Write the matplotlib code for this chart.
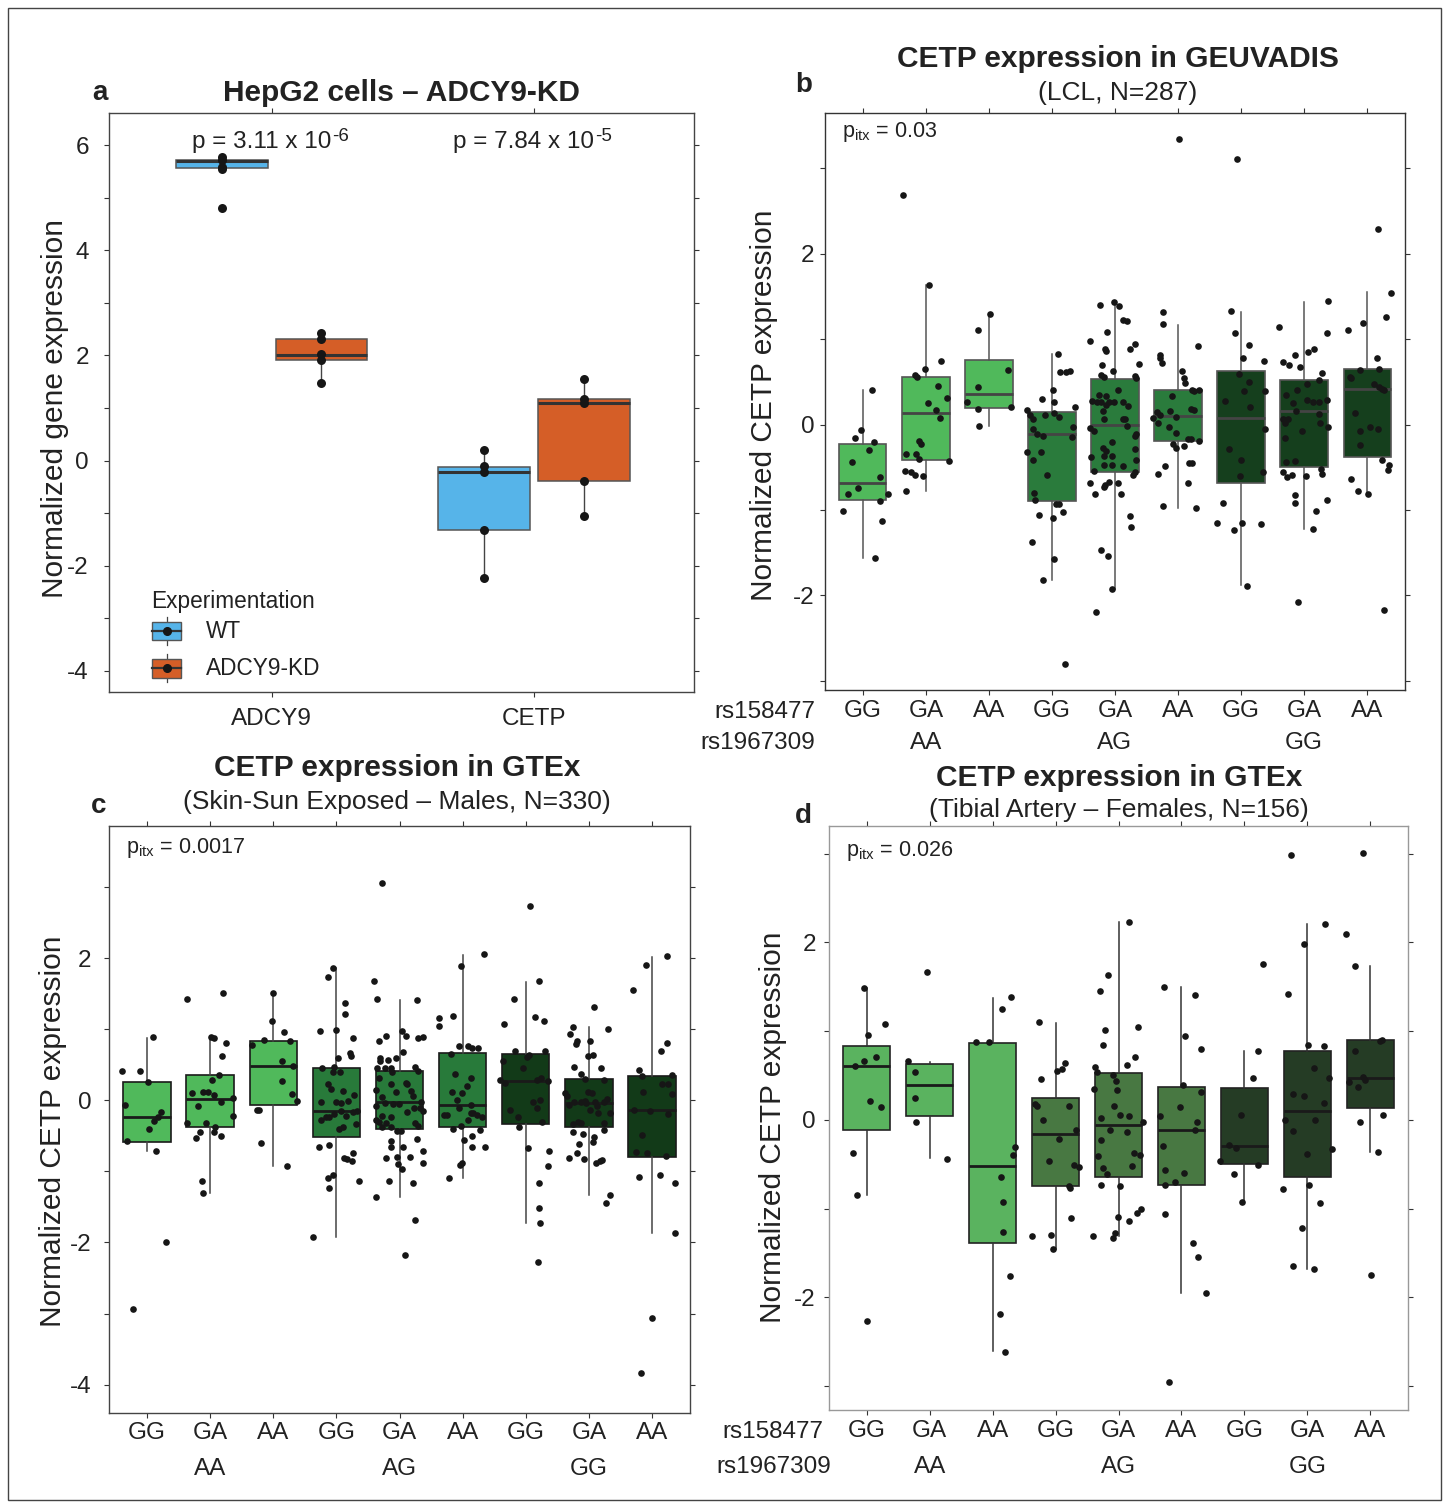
import matplotlib
matplotlib.use('Agg')
import matplotlib.pyplot as plt
from matplotlib.patches import Rectangle
from matplotlib.lines import Line2D

plt.rcParams['font.family'] = ['Liberation Sans', 'DejaVu Sans']
plt.rcParams['mathtext.fontset'] = 'custom'
plt.rcParams['mathtext.rm'] = 'Liberation Sans'
plt.rcParams['mathtext.it'] = 'Liberation Sans:italic'
plt.rcParams['mathtext.bf'] = 'Liberation Sans:bold'
plt.rcParams['mathtext.default'] = 'regular'

# ---------------- Panel a data ----------------
A_GENES = ['ADCY9', 'CETP']
A_GROUPS = ['WT', 'ADCY9-KD']
A_WT_POINTS = [[5.77, 5.72, 5.58, 5.55, 4.81], [0.21, -0.10, -0.21, -1.32, -2.24]]
A_KD_POINTS = [[2.42, 2.31, 2.02, 1.91, 1.48], [1.56, 1.18, 1.10, -0.39, -1.05]]
A_WT_Q1 = [5.56, -1.32]
A_WT_MED = [5.70, -0.21]
A_WT_Q3 = [5.72, -0.12]
A_WT_LO = [5.55, -2.24]
A_WT_HI = [5.77, 0.21]
A_KD_Q1 = [1.91, -0.39]
A_KD_MED = [2.01, 1.10]
A_KD_Q3 = [2.32, 1.18]
A_KD_LO = [1.48, -1.05]
A_KD_HI = [2.42, 1.56]
A_P_MANTISSA = ['3.11', '7.84']
A_P_EXPONENT = ['-6', '-5']

# ---------------- shared genotype labels ----------------
RS158477 = ['GG', 'GA', 'AA', 'GG', 'GA', 'AA', 'GG', 'GA', 'AA']
RS1967309 = ['AA', 'AG', 'GG']

# ---------------- Panel b data (GEUVADIS) ----------------
B_Q1 = [-0.88, -0.41, 0.19, -0.90, -0.56, -0.19, -0.69, -0.50, -0.38]
B_MED = [-0.68, 0.13, 0.36, -0.11, -0.01, 0.10, 0.08, 0.16, 0.42]
B_Q3 = [-0.225, 0.56, 0.76, 0.15, 0.53, 0.41, 0.63, 0.52, 0.65]
B_LO = [-1.56, -0.78, -0.02, -1.82, -1.93, -0.98, -1.88, -1.22, -0.81]
B_HI = [0.40, 1.63, 1.30, 0.83, 1.43, 1.17, 1.32, 1.44, 1.55]
B_VALUES = [
    [0.41, -0.06, -0.16, -0.20, -0.30, -0.44, -0.62, -0.74, -0.81, -0.81, -0.90, -1.01, -1.13, -1.56],
    [2.69, 1.63, 0.74, 0.65, 0.58, 0.56, 0.45, 0.31, 0.25, 0.17, 0.08, -0.19, -0.23, -0.35, -0.34, -0.40, -0.43, -0.54, -0.56, -0.59, -0.60, -0.78],
    [1.30, 1.11, 0.64, 0.44, 0.26, 0.18, 0.20, -0.02],
    [0.83, 0.61, 0.62, 0.63, 0.41, 0.30, 0.26, 0.20, 0.17, 0.11, 0.06, 0.11, 0.13, 0.09, -0.05, -0.11, -0.14, -0.03, -0.15, -0.32, -0.32, -0.42, -0.59, -0.80, -0.88, -0.93, -0.93, -1.09, -1.02, -1.06, -1.38, -1.57, -1.82, -2.81],
    [1.40, 1.43, 1.09, 0.98, 0.89, 0.86, 0.70, 0.58, 0.56, 0.63, 0.35, 0.33, 0.28, 0.26, 0.26, 0.23, 0.26, 0.26, 0.16, 0.06, -0.04, -0.07, -0.20, -0.38, -0.28, -0.31, -0.37, -0.37, -0.47, -0.47, -0.54, -0.68, -0.67, -0.71, -0.73, -0.81, -1.47, -1.54, -1.93, -2.20,
     1.23, 1.21, 0.89, 0.94, 0.71, 0.57, 0.54, 0.40, 0.26, 0.22, 0.06, 0.07, -0.02, -0.11, -0.13, -0.29, -0.48, -0.42, -0.56, -0.59, -0.68, -0.81, -1.07, -1.20, 1.39],
    [1.32, 1.18, 0.81, 0.78, 0.72, 0.92, 0.63, 0.54, 0.49, 0.33, 0.40, 0.39, 0.41, 0.08, 0.15, 0.11, 0.02, 0.16, 0.09, -0.03, -0.10, 0.18, 0.17, -0.23, -0.27, -0.25, -0.17, -0.17, -0.19, -0.49, -0.58, -0.45, -0.45, -0.68, -0.96, -0.98, 3.35],
    [3.11, 1.33, 1.07, 0.93, 0.78, 0.59, 0.50, 0.39, 0.74, 0.39, 0.20, 0.27, -0.05, -0.29, -0.41, -0.60, -0.56, -0.92, -1.15, -1.24, -1.15, -1.17, -1.89],
    [1.45, 1.07, 1.14, 0.73, 0.70, 0.81, 0.67, 0.85, 0.89, 0.47, 0.52, 0.60, 0.35, 0.25, 0.40, 0.29, 0.26, 0.26, 0.29, 0.06, 0.06, 0.02, 0.16, -0.08, 0.12, 0.02, -0.03, -0.16, -0.44, -0.43, -0.56, -0.62, -0.59, -0.60, -0.52, -0.58, -0.82, -0.92, -1.01, -0.88, -1.22, -2.08],
    [2.29, 1.54, 1.26, 1.11, 1.19, 0.78, 0.65, 0.64, 0.56, 0.55, 0.48, 0.44, 0.42, 0.41, 0.13, -0.08, -0.03, -0.05, -0.24, -0.42, -0.47, -0.53, -0.64, -0.78, -0.81, -2.17],
]
B_JITTER = [
    [0.15, -0.03, -0.12, 0.18, 0.10, -0.17, 0.28, -0.07, -0.23, 0.40, 0.28, -0.32, 0.31, 0.19],
    [-0.37, 0.05, 0.24, -0.01, -0.17, -0.14, 0.19, 0.33, 0.03, 0.16, 0.23, -0.11, -0.08, -0.32, -0.15, -0.11, 0.37, -0.33, -0.24, -0.17, -0.04, -0.31],
    [0.02, -0.17, 0.30, -0.18, -0.35, -0.17, 0.35, -0.15],
    [0.09, 0.12, 0.23, 0.28, 0.01, -0.16, 0.04, 0.37, -0.40, -0.35, -0.30, -0.11, 0.04, 0.11, -0.30, -0.23, -0.15, 0.33, 0.32, -0.40, -0.18, -0.30, -0.08, -0.29, -0.27, 0.06, 0.11, 0.02, 0.17, -0.21, -0.32, 0.04, -0.14, 0.21],
    [-0.24, -0.01, -0.13, -0.39, -0.16, -0.15, -0.21, -0.23, -0.18, -0.03, -0.25, -0.15, -0.36, -0.29, -0.23, -0.15, -0.09, -0.02, -0.19, -0.18, -0.39, -0.33, -0.05, -0.38, -0.19, -0.14, -0.17, -0.05, -0.18, -0.05, -0.34, -0.39, -0.10, -0.16, -0.17, -0.32, -0.22, -0.11, -0.05, -0.30,
     0.12, 0.19, 0.23, 0.32, 0.38, 0.32, 0.33, 0.04, 0.13, 0.20, 0.13, 0.16, 0.19, 0.33, 0.31, 0.32, 0.13, 0.33, 0.31, 0.29, 0.04, 0.09, 0.24, 0.26, 0.07],
    [-0.24, -0.24, -0.29, -0.28, -0.26, 0.31, 0.06, 0.09, 0.11, -0.10, 0.22, 0.25, 0.34, -0.39, -0.33, -0.28, -0.32, -0.12, -0.03, -0.15, -0.04, 0.21, 0.25, -0.08, -0.03, 0.09, 0.15, 0.20, 0.34, -0.21, -0.32, 0.18, 0.22, 0.16, -0.24, 0.29, 0.02],
    [-0.06, -0.16, -0.09, 0.13, 0.03, -0.03, 0.13, 0.05, 0.37, 0.38, 0.14, -0.26, 0.38, -0.19, 0.00, -0.01, 0.35, -0.29, -0.38, -0.11, 0.02, 0.32, 0.10],
    [0.38, 0.37, -0.40, -0.33, -0.24, -0.14, -0.07, 0.06, 0.16, 0.05, 0.24, 0.29, -0.28, -0.17, -0.12, 0.05, 0.14, 0.23, 0.36, -0.34, -0.26, -0.30, -0.13, -0.04, 0.23, 0.25, 0.38, -0.30, -0.29, -0.14, -0.34, -0.27, -0.19, 0.03, 0.27, 0.28, -0.15, -0.14, 0.19, 0.37, 0.14, -0.09],
    [0.17, 0.37, 0.30, -0.30, -0.07, 0.16, 0.19, -0.12, -0.28, -0.25, 0.11, 0.18, 0.23, 0.26, -0.19, -0.11, 0.04, 0.17, -0.12, 0.23, 0.34, 0.33, -0.25, -0.15, 0.01, 0.27],
]

# ---------------- Panel c data (GTEx skin, males) ----------------
C_Q1 = [-0.58, -0.37, -0.06, -0.52, -0.41, -0.38, -0.33, -0.38, -0.80]
C_MED = [-0.24, 0.02, 0.48, -0.15, -0.02, -0.07, 0.27, -0.04, -0.13]
C_Q3 = [0.26, 0.35, 0.84, 0.45, 0.41, 0.67, 0.65, 0.30, 0.34]
C_LO = [-0.71, -1.30, -0.93, -1.93, -1.36, -1.09, -1.72, -1.33, -1.87]
C_HI = [0.88, 0.89, 1.51, 1.86, 1.41, 2.05, 1.67, 1.03, 2.02]
C_VALUES = [
    [0.89, 0.41, 0.41, 0.26, -0.06, -0.16, -0.23, -0.29, -0.40, -0.57, -0.71, -2.00, -2.93],
    [1.43, 1.51, 0.89, 0.87, 0.81, 0.62, 0.36, 0.28, 0.10, 0.11, 0.11, 0.07, 0.03, -0.02, -0.08, -0.22, -0.32, -0.32, -0.37, -0.45, -0.44, -0.53, -0.50, -1.14, -1.30],
    [1.51, 1.11, 0.96, 0.85, 0.78, 0.83, 0.55, 0.48, 0.27, 0.09, -0.01, -0.13, -0.14, -0.60, -0.93],
    [1.86, 1.74, 1.37, 1.22, 0.98, 0.99, 0.88, 0.67, 0.62, 0.60, 0.45, 0.47, 0.40, 0.40, 0.23, 0.16, 0.13, 0.08, -0.02, -0.03, -0.04, -0.01, -0.15, -0.16, -0.19, -0.15, -0.23, -0.22, -0.28, -0.23, -0.37, -0.40, -0.33, -0.66, -0.63, -0.81, -0.83, -0.85, -0.74, -1.10, -1.05, -1.24, -1.14, -1.93],
    [1.68, 1.42, 0.83, 0.90, 0.59, 0.55, 0.57, 0.59, 0.45, 0.45, 0.45, 0.40, 0.32, 0.23, 0.12, 0.15, 0.05, -0.04, -0.05, -0.05, -0.08, -0.22, -0.24, -0.27, -0.30, -0.32, -0.38, -0.38, -0.43, -0.57, -0.65, -0.81, -0.80, -0.90, -1.13, -1.36,
     1.41, 0.98, 0.90, 0.87, 0.89, 0.68, 0.47, 0.41, 0.25, 0.23, 0.13, 0.06, -0.02, -0.11, -0.11, -0.15, -0.16, -0.32, -0.36, -0.43, -0.55, -0.65, -0.80, -0.72, -0.88, -0.97, -1.16, -1.69, -2.18, 3.06],
    [2.06, 1.89, 1.16, 1.04, 1.19, 0.77, 0.77, 0.74, 0.74, 0.65, 0.37, 0.31, 0.20, 0.11, 0.10, 0.00, -0.06, -0.11, -0.21, -0.20, -0.18, -0.18, -0.20, -0.27, -0.24, -0.41, -0.36, -0.42, -0.56, -0.50, -0.65, -0.66, -0.88, -0.91, -1.09],
    [2.74, 1.68, 1.43, 1.08, 1.17, 1.12, 0.69, 0.61, 0.64, 0.69, 0.55, 0.45, 0.24, 0.28, 0.32, 0.27, 0.29, -0.02, 0.00, -0.14, -0.24, -0.11, -0.38, -0.31, -0.67, -0.71, -0.93, -1.16, -1.52, -1.72, -2.27],
    [1.32, 1.01, 1.03, 0.93, 0.84, 0.79, 0.83, 0.63, 0.64, 0.46, 0.47, 0.37, 0.30, 0.28, 0.10, 0.06, -0.02, -0.07, -0.02, -0.04, 0.12, 0.10, -0.03, -0.08, -0.02, -0.01, -0.14, -0.18, -0.18, 0.02, -0.30, -0.33, -0.32, -0.32, -0.45, -0.48, -0.51, -0.42, -0.61, -0.58, -0.74, -0.81, -0.83, -0.88, -0.85, -0.84, -1.33, -1.44],
    [2.03, 1.91, 1.55, 0.80, 0.69, 0.43, 0.34, 0.35, 0.23, 0.23, 0.09, 0.12, -0.15, -0.13, -0.19, -0.49, -0.73, -0.74, -0.79, -1.08, -1.05, -1.17, -1.87, -3.06, -3.84],
]
C_JITTER = [
    [0.09, -0.39, -0.11, 0.02, -0.35, 0.22, 0.18, 0.12, 0.03, -0.31, 0.14, 0.31, -0.22],
    [-0.36, 0.21, 0.02, 0.07, 0.25, 0.19, 0.14, 0.03, -0.29, -0.11, -0.04, 0.06, 0.37, 0.17, -0.19, 0.37, -0.36, -0.07, 0.08, -0.16, 0.07, -0.22, 0.18, -0.13, -0.11],
    [-0.01, -0.02, 0.17, -0.14, -0.34, 0.27, 0.14, 0.31, 0.14, 0.29, 0.37, -0.22, -0.26, -0.19, 0.22],
    [-0.06, -0.13, 0.13, 0.14, -0.26, 0.00, 0.26, 0.21, 0.23, 0.02, -0.23, -0.03, -0.05, 0.06, -0.14, -0.08, 0.11, 0.28, -0.25, -0.01, 0.07, 0.19, 0.33, 0.27, -0.04, 0.07, -0.17, 0.16, -0.25, -0.11, 0.11, 0.04, 0.31, -0.27, -0.11, 0.12, 0.17, 0.24, 0.27, -0.14, -0.06, -0.12, 0.36, -0.37],
    [-0.40, -0.35, -0.33, -0.21, -0.31, -0.31, -0.18, -0.06, -0.36, -0.23, -0.14, -0.12, -0.33, -0.13, -0.06, -0.37, -0.28, -0.23, -0.11, -0.01, -0.37, -0.27, -0.14, -0.38, -0.33, -0.21, -0.28, -0.13, -0.04, -0.14, -0.13, -0.22, -0.04, -0.02, -0.17, -0.38,
     0.28, 0.04, 0.11, 0.29, 0.37, 0.06, 0.25, 0.29, 0.11, 0.12, 0.18, 0.21, 0.34, 0.32, 0.23, 0.37, 0.12, 0.25, 0.29, 0.03, 0.28, 0.05, 0.17, 0.37, 0.38, 0.04, 0.21, 0.24, 0.08, -0.28],
    [0.34, -0.03, -0.38, -0.38, -0.15, -0.06, 0.09, 0.15, 0.25, -0.19, -0.12, 0.13, 0.07, -0.17, -0.01, -0.09, 0.14, -0.06, -0.29, -0.24, 0.13, 0.16, 0.23, 0.09, 0.30, -0.16, -0.02, 0.28, 0.02, 0.15, 0.36, 0.15, -0.01, -0.04, -0.21],
    [0.06, 0.21, -0.18, -0.34, 0.15, 0.29, -0.17, 0.02, 0.05, 0.31, -0.36, -0.05, -0.33, -0.41, 0.24, 0.35, 0.18, 0.12, 0.23, -0.25, -0.13, 0.17, -0.11, 0.26, 0.03, 0.36, 0.35, 0.21, 0.21, 0.22, 0.20],
    [0.08, 0.30, -0.26, -0.30, -0.19, -0.21, 0.01, -0.02, 0.06, 0.19, -0.23, -0.13, -0.07, 0.24, -0.38, -0.34, -0.24, -0.32, -0.13, -0.04, -0.02, 0.05, 0.09, 0.13, 0.24, -0.07, 0.01, 0.14, 0.34, 0.29, -0.18, -0.26, -0.12, 0.24, -0.25, -0.09, 0.08, 0.24, -0.15, 0.07, -0.19, -0.32, -0.08, 0.11, 0.18, 0.21, 0.33, 0.27],
    [0.23, -0.10, -0.30, 0.24, 0.14, -0.21, -0.16, 0.32, 0.15, 0.25, 0.32, -0.15, -0.04, -0.28, 0.25, -0.16, -0.25, -0.08, 0.22, -0.21, 0.13, 0.36, 0.36, 0.00, -0.18],
]

# ---------------- Panel d data (GTEx tibial artery, females) ----------------
D_Q1 = [-0.12, 0.04, -1.39, -0.75, -0.65, -0.74, -0.50, -0.65, 0.13]
D_MED = [0.61, 0.39, -0.52, -0.16, -0.06, -0.11, -0.30, 0.10, 0.47]
D_Q3 = [0.83, 0.63, 0.87, 0.25, 0.53, 0.37, 0.36, 0.77, 0.90]
D_LO = [-0.85, -0.43, -2.61, -1.46, -1.31, -1.95, -0.93, -1.68, -0.36]
D_HI = [1.48, 0.65, 1.37, 1.09, 2.23, 1.50, 0.78, 2.21, 1.73]
D_VALUES = [
    [1.48, 0.96, 1.08, 0.66, 0.71, 0.61, 0.21, 0.14, -0.37, -0.85, -2.27],
    [1.66, 0.66, 0.54, 0.24, -0.02, -0.44],
    [1.38, 1.25, 0.88, 0.88, -0.31, -0.40, -0.64, -0.93, -1.27, -1.76, -2.19, -2.62],
    [1.10, 0.55, 0.57, 0.64, 0.46, 0.18, 0.16, 0.16, 0.00, -0.22, -0.11, -0.46, -0.51, -0.53, -0.75, -0.77, -1.11, -1.31, -1.30, -1.46],
    [1.63, 1.45, 1.01, 0.84, 0.60, 0.54, 0.50, 0.35, 0.44, 0.33, 0.16, 0.02, -0.12, -0.23, -0.41, -0.54, -0.61, -0.74, -1.31, -1.33, -1.28, -1.10,
     2.23, 1.05, 0.71, 0.62, 0.04, -0.14, -0.03, -0.37, -0.40, -0.52, -0.75, -1.14, -1.05, -1.01, 0.05],
    [1.50, 1.41, 0.80, 0.94, 0.39, 0.14, 0.04, -0.03, -0.11, -0.30, 0.31, -0.57, -0.60, -0.70, -0.74, -1.06, -1.39, -1.55, -1.95, -2.96],
    [1.75, 0.78, 0.47, 0.05, -0.46, -0.28, -0.32, -0.51, -0.61, -0.93],
    [2.98, 2.21, 1.98, 1.42, 0.84, 0.83, 0.58, 0.47, 0.29, 0.27, 0.19, 0.00, -0.13, 0.00, -0.38, -0.33, -0.74, -0.78, -0.94, -1.22, -1.65, -1.68],
    [3.01, 2.09, 1.73, 0.77, 0.89, 0.90, 0.42, 0.37, 0.48, 0.45, -0.03, 0.05, -0.36, -1.75],
]
D_JITTER = [
    [-0.05, 0.02, 0.29, -0.04, 0.15, -0.19, 0.05, 0.23, -0.22, -0.15, 0.01],
    [-0.05, -0.34, -0.24, -0.23, -0.22, 0.28],
    [0.29, 0.15, -0.26, -0.05, 0.35, 0.32, 0.13, 0.16, 0.17, 0.28, 0.11, 0.20],
    [-0.27, 0.03, 0.11, 0.15, -0.23, -0.33, -0.29, 0.22, -0.20, 0.06, 0.32, -0.10, 0.30, 0.38, 0.21, 0.23, 0.25, -0.37, -0.07, -0.04],
    [-0.16, -0.29, -0.21, -0.24, -0.37, -0.34, -0.08, -0.39, -0.04, -0.03, -0.07, -0.28, -0.13, -0.28, -0.33, -0.24, -0.18, -0.28, -0.41, -0.08, -0.05, -0.01,
     0.17, 0.31, 0.26, 0.13, 0.17, 0.14, 0.39, 0.25, 0.34, 0.22, 0.03, 0.16, 0.29, 0.36, 0.03],
    [-0.27, 0.22, 0.31, 0.05, 0.03, -0.03, -0.34, 0.24, 0.21, -0.29, 0.31, -0.26, 0.04, -0.10, -0.26, -0.26, 0.18, 0.26, 0.39, -0.19],
    [0.30, 0.21, 0.14, -0.05, -0.39, -0.24, -0.13, 0.21, -0.17, -0.03],
    [-0.26, 0.28, -0.06, -0.31, 0.01, 0.27, 0.10, 0.34, -0.22, -0.06, 0.27, -0.36, -0.23, 0.12, -0.01, 0.39, 0.02, -0.39, 0.20, -0.08, -0.23, 0.10],
    [-0.12, -0.38, -0.25, -0.24, 0.15, 0.19, -0.34, -0.19, -0.12, -0.09, -0.16, 0.20, 0.12, 0.02],
]

# ---------------- styles ----------------
W, H = 1447, 1507
fig = plt.figure(figsize=(W / 100, H / 100), dpi=100)
fig.patches.append(Rectangle((8 / W, 1 - 1500 / H), (1441 - 8) / W, (1500 - 8) / H,
                             transform=fig.transFigure, fill=False, edgecolor='#444444', lw=1.0))


def add_axes_px(left, top, right, bottom):
    return fig.add_axes([left / W, 1 - bottom / H, (right - left) / W, (bottom - top) / H])


TICK_FS = 17.5
YLAB_FS = 21.5
TITLE_FS = 21.5
SUB_FS = 19
TXT = '#222222'
DOT_S = 23


def style_axes(ax, spine_color, ylo, yhi, ypad):
    for s in ax.spines.values():
        s.set_color(spine_color)
        s.set_linewidth(1.0)
    ax.set_ylim(ylo, yhi)
    ticks = [t for t in range(-6, 8) if ylo <= t <= yhi]
    ax.set_yticks(ticks)
    ax.set_yticklabels([str(t) if t % 2 == 0 else '' for t in ticks])
    ax.tick_params(axis='both', which='both', labelsize=TICK_FS, colors='#333333',
                   labelcolor=TXT, length=3.5, width=0.8)
    ax.tick_params(axis='y', pad=ypad)
    ax.tick_params(top=True, right=True, direction='out')
    ax.set_facecolor('white')


def genotype_panel(ax, q1, med, q3, lo, hi, values, jitter, colors, edge, whisk,
                   med_color, ylo, yhi, ypad, spine_color, pad1, row2_px):
    n = len(med)
    stats = [dict(q1=q1[i], med=med[i], q3=q3[i], whislo=lo[i], whishi=hi[i], fliers=[])
             for i in range(n)]
    bp = ax.bxp(stats, positions=list(range(n)), widths=0.75, patch_artist=True,
                showfliers=False, showcaps=False,
                boxprops=dict(edgecolor=edge, linewidth=1.2),
                medianprops=dict(color=med_color, linewidth=2.0),
                whiskerprops=dict(color=whisk, linewidth=1.1))
    for patch, c in zip(bp['boxes'], colors):
        patch.set_facecolor(c)
    for i in range(n):
        pairs = list(zip(jitter[i], values[i]))
        xs = [i + dx for dx, _ in pairs]
        ys = [v for _, v in pairs]
        ax.scatter(xs, ys, s=DOT_S, color='#161616', zorder=4, linewidths=0)
    ax.set_xlim(-0.6, n - 1 + 0.6)
    ax.set_xticks(range(n))
    ax.set_xticklabels(RS158477)
    style_axes(ax, spine_color, ylo, yhi, ypad)
    ax.tick_params(axis='x', pad=pad1)
    for k, lab in enumerate(RS1967309):
        ax.annotate(lab, xy=(1 + 3 * k, 0), xycoords=('data', 'axes fraction'),
                    xytext=(0, -row2_px), textcoords='offset pixels', ha='center', va='center',
                    fontsize=TICK_FS, color=TXT)


GREENS_B = ['#50b95b', '#2a7b3c', '#153f1d']
GREENS_C = ['#50b95b', '#287a3a', '#123a18']
GREENS_D = ['#5ab35f', '#487842', '#253c25']

# ---------------- Panel a ----------------
axa = add_axes_px(109, 113, 694, 692)
off, bw = 0.19, 0.35
for grp, (q1, md, q3, lo, hi, pts, col) in enumerate([
        (A_WT_Q1, A_WT_MED, A_WT_Q3, A_WT_LO, A_WT_HI, A_WT_POINTS, '#56b4e9'),
        (A_KD_Q1, A_KD_MED, A_KD_Q3, A_KD_LO, A_KD_HI, A_KD_POINTS, '#d55e27')]):
    pos = [i + (off if grp else -off) for i in range(len(A_GENES))]
    stats = [dict(q1=q1[i], med=md[i], q3=q3[i], whislo=lo[i], whishi=hi[i], fliers=[])
             for i in range(len(A_GENES))]
    bp = axa.bxp(stats, positions=pos, widths=bw, patch_artist=True, showfliers=False,
                 showcaps=False, boxprops=dict(edgecolor='#555555', linewidth=1.1),
                 medianprops=dict(color='#333333', linewidth=2.2),
                 whiskerprops=dict(color='#444444', linewidth=1.0))
    for p in bp['boxes']:
        p.set_facecolor(col)
    for i in range(len(A_GENES)):
        axa.scatter([pos[i]] * len(pts[i]), pts[i], s=42, color='#161616', zorder=4, linewidths=0)
axa.set_xlim(-0.62, 1.61)
axa.set_xticks(range(len(A_GENES)))
axa.set_xticklabels(A_GENES)
style_axes(axa, '#444444', -4.40, 6.61, 11)
axa.tick_params(axis='x', pad=8)
axa.set_ylabel('Normalized gene expression', fontsize=YLAB_FS, color=TXT, va='center')
axa.yaxis.set_label_coords(-0.092, 0.49)
for i, (mant, expo) in enumerate(zip(A_P_MANTISSA, A_P_EXPONENT)):
    base = axa.annotate('p = %s x 10' % mant, xy=(i, 6.05), xytext=(-10, 0),
                        textcoords='offset pixels', ha='center', va='center',
                        fontsize=17.5, color=TXT)
    axa.annotate(expo, xy=(1.0, 0.56), xycoords=base, xytext=(1, 0),
                 textcoords='offset pixels', ha='left', va='baseline', fontsize=13.5, color=TXT)
# legend
axa.text(0.072, 0.157, 'Experimentation', transform=axa.transAxes, fontsize=16.3,
         color=TXT, va='center', ha='left')
for k, (lab, col) in enumerate(zip(A_GROUPS, ['#56b4e9', '#d55e27'])):
    yc = 0.105 - k * 0.064
    axa.add_line(Line2D([0.0985, 0.0985], [yc - 0.024, yc + 0.024], transform=axa.transAxes,
                        color='#444444', lw=0.9, zorder=5))
    axa.add_patch(Rectangle((0.074, yc - 0.016), 0.049, 0.032, transform=axa.transAxes,
                            facecolor=col, edgecolor='#555555', lw=1.0, zorder=6))
    axa.add_line(Line2D([0.074, 0.123], [yc, yc], transform=axa.transAxes,
                        color='#333333', lw=1.6, zorder=7))
    axa.plot([0.0985], [yc], 'o', ms=5.5, color='#161616', transform=axa.transAxes, zorder=8)
    axa.text(0.166, yc, lab, transform=axa.transAxes, fontsize=16.3, color=TXT,
             va='center', ha='left')

# ---------------- Panel b ----------------
axb = add_axes_px(825, 113, 1405, 690)
genotype_panel(axb, B_Q1, B_MED, B_Q3, B_LO, B_HI, B_VALUES, B_JITTER,
               [GREENS_B[i // 3] for i in range(9)], '#555555', '#555555', '#444444',
               -3.11, 3.65, 4, '#333333', 4, 53)
axb.set_ylabel('Normalized CETP expression', fontsize=YLAB_FS, color=TXT, va='center')
axb.yaxis.set_label_coords(-0.105, 0.494)
axb.text(0.03, 0.967, 'p$_{itx}$ = 0.03', transform=axb.transAxes, fontsize=15.5,
         color=TXT, ha='left', va='center')

# ---------------- Panel c ----------------
axc = add_axes_px(109, 826, 690, 1413)
genotype_panel(axc, C_Q1, C_MED, C_Q3, C_LO, C_HI, C_VALUES, C_JITTER,
               [GREENS_C[i // 3] for i in range(9)], '#1a1a1a', '#444444', '#1a1a1a',
               -4.40, 3.86, 9, '#444444', 3, 56)
axc.set_ylabel('Normalized CETP expression', fontsize=YLAB_FS, color=TXT, va='center')
axc.yaxis.set_label_coords(-0.096, 0.48)
axc.text(0.03, 0.962, 'p$_{itx}$ = 0.0017', transform=axc.transAxes, fontsize=15.5,
         color=TXT, ha='left', va='center')

# ---------------- Panel d ----------------
axd = add_axes_px(829, 826, 1408, 1410)
genotype_panel(axd, D_Q1, D_MED, D_Q3, D_LO, D_HI, D_VALUES, D_JITTER,
               [GREENS_D[i // 3] for i in range(9)], '#222222', '#333333', '#1a1a1a',
               -3.27, 3.31, 6, '#999999', 4, 57)
axd.set_ylabel('Normalized CETP expression', fontsize=YLAB_FS, color=TXT, va='center')
axd.yaxis.set_label_coords(-0.097, 0.485)
axd.text(0.03, 0.958, 'p$_{itx}$ = 0.026', transform=axd.transAxes, fontsize=15.5,
         color=TXT, ha='left', va='center')

# rs labels (row headers)
for ax, r1x, r2x, r1y, r2y in [(axb, -10, -10, 22, 53), (axd, -6, 2, 22, 57)]:
    ax.annotate('rs158477', xy=(0, 0), xycoords='axes fraction', xytext=(r1x, -r1y),
                textcoords='offset pixels', ha='right', va='center', fontsize=TICK_FS, color=TXT)
    ax.annotate('rs1967309', xy=(0, 0), xycoords='axes fraction', xytext=(r2x, -r2y),
                textcoords='offset pixels', ha='right', va='center', fontsize=TICK_FS, color=TXT)


# ---------------- titles and panel letters ----------------
def ftext(x, y, s, **kw):
    fig.text(x / W, 1 - y / H, s, ha='center', va='center', color=TXT, **kw)


ftext(401, 93, 'HepG2 cells – ADCY9-KD', fontsize=TITLE_FS, fontweight='bold')
ftext(100, 93, 'a', fontsize=20, fontweight='bold')
ftext(1118, 59, 'CETP expression in GEUVADIS', fontsize=TITLE_FS, fontweight='bold')
ftext(1118, 93, '(LCL, N=287)', fontsize=SUB_FS)
ftext(804, 85, 'b', fontsize=20, fontweight='bold')
ftext(397, 768, 'CETP expression in GTEx', fontsize=TITLE_FS, fontweight='bold')
ftext(397, 802, '(Skin-Sun Exposed – Males, N=330)', fontsize=SUB_FS)
ftext(99, 806, 'c', fontsize=20, fontweight='bold')
ftext(1119, 778, 'CETP expression in GTEx', fontsize=TITLE_FS, fontweight='bold')
ftext(1119, 810, '(Tibial Artery – Females, N=156)', fontsize=SUB_FS)
ftext(803, 816, 'd', fontsize=20, fontweight='bold')

fig.savefig('out.png', dpi=100, facecolor='white')
